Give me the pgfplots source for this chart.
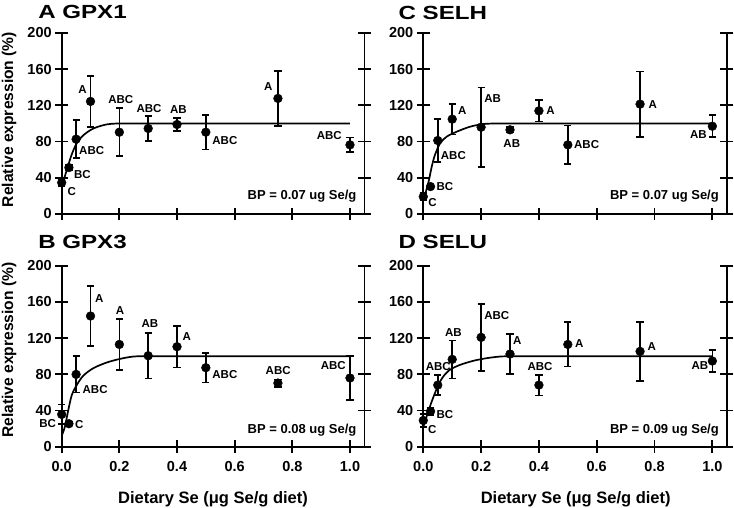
\documentclass[border=0pt]{standalone}
\usepackage{pgfplots}
\pgfplotsset{compat=1.18}
\usepackage{fontspec}
\setmainfont{Liberation Sans}
\newcommand\lf{\fontsize{11.5}{11.5}\selectfont\bfseries}
\pgfplotsset{
  panel/.style={
    scale only axis, width=302.7pt, height=181pt,
    xmin=0, xmax=1.05, ymin=0, ymax=200,
    xtick={0,0.2,0.4,0.6,0.8,1}, ytick={0,40,80,120,160,200},
    tick align=center, major tick length=13pt,
    xtick pos=left, ytick pos=both,
    tick style={black, line width=1.8pt},
    axis line style={draw=none},
    clip=false,
    tick label style={font=\fontsize{14.5}{14.5}\selectfont\bfseries},
    xticklabel style={yshift=-5pt},
    /pgf/number format/assume math mode=true,
  },
  curve/.style={black, line width=1.7pt, smooth, no marks},
  pts/.style={only marks, mark=*, mark size=4.4pt, black,
    mark options={solid, fill=black, line width=0.4pt},
    error bars/.cd, y dir=both, y explicit,
    error bar style={line width=1.7pt, black},
    error mark options={rotate=90, black, line width=1.7pt, mark size=3.6pt}},
}
\pgfplotstableread{
x y e
0 34.7 4
0.025 51.3 3
0.05 82.7 21
0.1 124.4 28
0.2 90.4 26.5
0.3 94.5 13.5
0.4 98.9 7
0.5 90.4 19
0.75 127.7 30.5
1.0 76.4 8
}\gpxone
\pgfplotstableread{
x y e
0 19.2 4
0.025 30.3 2
0.05 81.2 24
0.1 104.8 17
0.2 95.9 44
0.3 93 3
0.4 114 11.7
0.5 76.4 21.5
0.75 121.4 36
1.0 97 12.2
}\selh
\pgfplotstableread{
x y e
0 35.7 11
0.025 25.4 2
0.05 79.9 20
0.1 144.4 33
0.2 113 28
0.3 100.5 25
0.4 110.5 23
0.5 87.3 16.5
0.75 70.3 4
1.0 75.9 24.5
}\gpxthree
\pgfplotstableread{
x y e
0 29 7
0.025 39 4
0.05 68.1 11
0.1 96.5 21
0.2 120.8 37
0.3 102.4 22
0.4 68.1 11.5
0.5 113 24.5
0.75 105.3 32.6
1.0 94.7 12
}\selu
\begin{document}
\begin{tikzpicture}[x=1pt,y=1pt]
\useasboundingbox (0,0) rectangle (734,507);
% A GPX1
\begin{axis}[panel, at={(61.7pt,293pt)}, anchor=south west, xticklabels={}]
\draw[line width=1.8pt] (rel axis cs:0,1) -- (rel axis cs:0,0) -- (rel axis cs:1,0) -- (rel axis cs:1,1);
\addplot[curve] coordinates {(0,30) (0.017,48) (0.035,66) (0.052,78) (0.075,87) (0.11,94.5) (0.156,99) (0.2,100) (0.3,100) (1.0,100)};
\addplot[pts] table[x=x,y=y,y error=e] {\gpxone};
\node[font=\lf] at (axis cs:0.035,24.7) {C};
\node[font=\lf] at (axis cs:0.072,43.2) {BC};
\node[font=\lf] at (axis cs:0.104,70) {ABC};
\node[font=\lf] at (axis cs:0.072,138) {A};
\node[font=\lf] at (axis cs:0.205,126) {ABC};
\node[font=\lf] at (axis cs:0.303,117) {ABC};
\node[font=\lf] at (axis cs:0.405,115) {AB};
\node[font=\lf] at (axis cs:0.566,80.8) {ABC};
\node[font=\lf] at (axis cs:0.717,141) {A};
\node[font=\lf] at (axis cs:0.928,86.7) {ABC};
\node[anchor=base east, inner sep=0, font=\fontsize{13}{13}\selectfont\bfseries] at (axis cs:1.023,15.5) {BP = 0.07 ug Se/g};
\end{axis}
% C SELH
\begin{axis}[panel, at={(423.3pt,293pt)}, anchor=south west, width=303.5pt, xticklabels={}]
\draw[line width=1.8pt] (rel axis cs:0,1) -- (rel axis cs:0,0) -- (rel axis cs:1,0) -- (rel axis cs:1,1);
\addplot[curve] coordinates {(0,15) (0.017,34) (0.029,52) (0.040,65) (0.058,78) (0.081,85.5) (0.116,91) (0.162,96.5) (0.208,99.4) (0.254,100) (0.35,100) (1.0,100)};
\addplot[pts] table[x=x,y=y,y error=e] {\selh};
\node[font=\lf] at (axis cs:0.032,12.9) {C};
\node[font=\lf] at (axis cs:0.075,30.3) {BC};
\node[font=\lf] at (axis cs:0.104,64.6) {ABC};
\node[font=\lf] at (axis cs:0.135,114) {A};
\node[font=\lf] at (axis cs:0.24,128) {AB};
\node[font=\lf] at (axis cs:0.306,78.2) {AB};
\node[font=\lf] at (axis cs:0.44,114) {A};
\node[font=\lf] at (axis cs:0.565,77.1) {ABC};
\node[font=\lf] at (axis cs:0.794,121.4) {A};
\node[font=\lf] at (axis cs:0.952,87.5) {AB};
\node[anchor=base east, inner sep=0, font=\fontsize{13}{13}\selectfont\bfseries] at (axis cs:1.023,15.5) {BP = 0.07 ug Se/g};
\end{axis}
% B GPX3
\begin{axis}[panel, at={(61.7pt,60.3pt)}, anchor=south west, xticklabels={0.0,0.2,0.4,0.6,0.8,1.0}]
\draw[line width=1.8pt] (rel axis cs:0,1) -- (rel axis cs:0,0) -- (rel axis cs:1,0) -- (rel axis cs:1,1);
\addplot[curve] coordinates {(0,12) (0.011,22) (0.023,40.6) (0.035,57) (0.052,68) (0.075,78.5) (0.11,86.8) (0.156,93) (0.202,97) (0.248,99.6) (0.3,100) (0.4,100) (1.0,100)};
\addplot[pts] table[x=x,y=y,y error=e] {\gpxthree};
\node[font=\lf] at (axis cs:-0.049,25.8) {BC};
\node[font=\lf] at (axis cs:0.061,24) {C};
\node[font=\lf] at (axis cs:0.116,63.7) {ABC};
\node[font=\lf] at (axis cs:0.13,164) {A};
\node[font=\lf] at (axis cs:0.202,150) {A};
\node[font=\lf] at (axis cs:0.306,136) {AB};
\node[font=\lf] at (axis cs:0.434,122) {A};
\node[font=\lf] at (axis cs:0.566,80) {ABC};
\node[font=\lf] at (axis cs:0.751,84.7) {ABC};
\node[font=\lf] at (axis cs:0.942,89.5) {ABC};
\node[anchor=base east, inner sep=0, font=\fontsize{13}{13}\selectfont\bfseries] at (axis cs:1.023,14.7) {BP = 0.08 ug Se/g};
\end{axis}
% D SELU
\begin{axis}[panel, at={(423.3pt,60.3pt)}, anchor=south west, width=303.5pt, xticklabels={0.0,0.2,0.4,0.6,0.8,1.0}]
\draw[line width=1.8pt] (rel axis cs:0,1) -- (rel axis cs:0,0) -- (rel axis cs:1,0) -- (rel axis cs:1,1);
\addplot[curve] coordinates {(0,22) (0.006,27.7) (0.017,38.7) (0.029,49.8) (0.040,59) (0.052,68.3) (0.069,77.5) (0.092,85) (0.127,90.4) (0.173,94.9) (0.219,97.8) (0.265,99.6) (0.31,100) (0.4,100) (1.0,100)};
\addplot[pts] table[x=x,y=y,y error=e] {\selu};
\node[font=\lf] at (axis cs:0.031,19.5) {C};
\node[font=\lf] at (axis cs:0.075,35) {BC};
\node[font=\lf] at (axis cs:0.052,88.4) {ABC};
\node[font=\lf] at (axis cs:0.104,126.3) {AB};
\node[font=\lf] at (axis cs:0.254,144.4) {ABC};
\node[font=\lf] at (axis cs:0.325,117) {A};
\node[font=\lf] at (axis cs:0.404,88.4) {ABC};
\node[font=\lf] at (axis cs:0.54,114.2) {A};
\node[font=\lf] at (axis cs:0.79,110.5) {A};
\node[font=\lf] at (axis cs:0.957,89.5) {AB};
\node[anchor=base east, inner sep=0, font=\fontsize{13}{13}\selectfont\bfseries] at (axis cs:1.023,14.7) {BP = 0.09 ug Se/g};
\end{axis}
% titles and axis labels
\node[anchor=base west, inner sep=0, xscale=1.27, font=\fontsize{19}{19}\selectfont\bfseries] at (38,488.7) {A GPX1};
\node[anchor=base west, inner sep=0, xscale=1.27, font=\fontsize{19}{19}\selectfont\bfseries] at (398.3,487.7) {C SELH};
\node[anchor=base west, inner sep=0, xscale=1.27, font=\fontsize{19}{19}\selectfont\bfseries] at (38,258.5) {B GPX3};
\node[anchor=base west, inner sep=0, xscale=1.27, font=\fontsize{19}{19}\selectfont\bfseries] at (398.3,258.5) {D SELU};
\node[rotate=90, anchor=base, inner sep=0, font=\fontsize{15.6}{15.6}\selectfont\bfseries] at (13,387.5) {Relative expression (\%)};
\node[rotate=90, anchor=base, inner sep=0, font=\fontsize{15.6}{15.6}\selectfont\bfseries] at (13,157) {Relative expression (\%)};
\node[anchor=base, inner sep=0, font=\fontsize{16.5}{16.5}\selectfont\bfseries] at (213,3.7) {Dietary Se (μg Se/g diet)};
\node[anchor=base, inner sep=0, font=\fontsize{16.5}{16.5}\selectfont\bfseries] at (575.7,3.7) {Dietary Se (μg Se/g diet)};
\end{tikzpicture}
\end{document}
